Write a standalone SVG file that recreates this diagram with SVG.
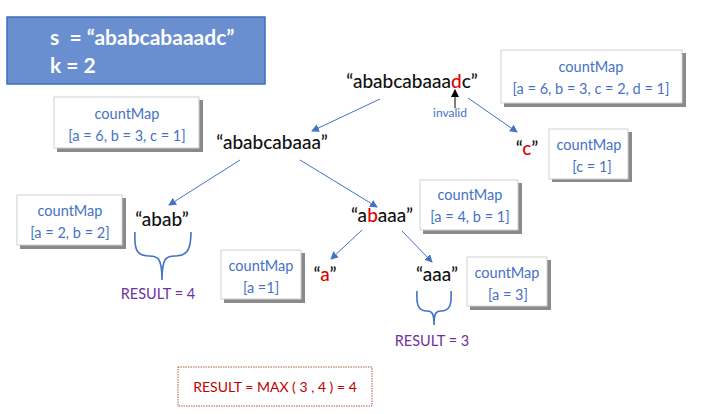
<svg xmlns="http://www.w3.org/2000/svg" width="703" height="414" viewBox="0 0 703 414">
<defs>
<marker id="ab" markerWidth="8" markerHeight="8" refX="7" refY="4" orient="auto" markerUnits="userSpaceOnUse"><path d="M0,0 L8,4 L0,8 z" fill="#4472c4"/></marker>
<marker id="ak" markerWidth="8" markerHeight="8" refX="7" refY="4" orient="auto" markerUnits="userSpaceOnUse"><path d="M0,0 L8,4 L0,8 z" fill="#000"/></marker>
<style>
.cm{font-family:Lato,"Noto Sans",sans-serif;font-size:14.5px;fill:#4472c4;text-anchor:middle}
.sh{fill:#8a8a8a}
.bx{fill:#fff;stroke:#cfcfcf;stroke-width:1}
.nd{font-family:Lato,"Noto Sans",sans-serif;font-size:19px;fill:#111;text-anchor:middle;font-weight:500}
.r{fill:#e00000}
.ln{stroke:#4472c4;stroke-width:1;fill:none}
.br{stroke:#4472c4;stroke-width:1.6;fill:none}
.res{font-family:Lato,"Noto Sans",sans-serif;font-size:14.5px;fill:#7030a0;text-anchor:middle}
</style>
</defs>
<rect width="703" height="414" fill="#fff"/>
<g id="input">
<rect x="7" y="17" width="258" height="67" fill="#6a8fd0" stroke="#3f6fc0" stroke-width="1.5"/>
<text x="50" y="45" font-family="Lato,'Noto Sans',sans-serif" font-size="21" font-weight="bold" fill="#fff" xml:space="preserve">s  = “ababcabaaadc”</text>
<text x="50" y="73" font-family="Lato,'Noto Sans',sans-serif" font-size="21" font-weight="bold" fill="#fff">k = 2</text>
</g>
<g id="connectors">
<line class="ln" x1="380" y1="99" x2="312" y2="131" marker-end="url(#ab)"/>
<line class="ln" x1="468" y1="98" x2="517" y2="132" marker-end="url(#ab)"/>
<line x1="455" y1="108" x2="455" y2="90" stroke="#000" stroke-width="1" marker-end="url(#ak)"/>
<text x="450" y="117" class="cm" style="font-size:12px">invalid</text>
<line class="ln" x1="240" y1="160" x2="169" y2="205" marker-end="url(#ab)"/>
<line class="ln" x1="300" y1="160" x2="377" y2="207" marker-end="url(#ab)"/>
<line class="ln" x1="362" y1="230" x2="331" y2="259" marker-end="url(#ab)"/>
<line class="ln" x1="402" y1="231" x2="432" y2="262" marker-end="url(#ab)"/>
</g>
<g id="root">
<text x="412" y="88" class="nd">“ababcabaaa<tspan class="r">d</tspan>c”</text>
<rect class="sh" x="504" y="53" width="182" height="54"/>
<rect class="bx" x="501" y="50" width="181" height="53"/>
<text x="591" y="72" class="cm">countMap</text>
<text x="591" y="94" class="cm">[a = 6, b = 3, c = 2, d = 1]</text>
</g>
<g id="nodeC">
<text x="527" y="155" class="nd">“<tspan class="r">c</tspan>”</text>
<rect class="sh" x="552" y="132" width="80" height="50"/>
<rect class="bx" x="549" y="129" width="79" height="50"/>
<text x="589" y="150" class="cm">countMap</text>
<text x="592" y="172" class="cm">[c = 1]</text>
</g>
<g id="nodeL1">
<text x="272" y="149" class="nd">“ababcabaaa”</text>
<rect class="sh" x="57" y="100" width="146" height="52"/>
<rect class="bx" x="54" y="97" width="145" height="51"/>
<text x="127" y="119" class="cm">countMap</text>
<text x="127" y="141" class="cm">[a = 6, b = 3, c = 1]</text>
</g>
<g id="nodeAbab">
<text x="162" y="226" class="nd">“abab”</text>
<rect class="sh" x="20" y="198" width="106" height="51"/>
<rect class="bx" x="17" y="195" width="105" height="50"/>
<text x="70" y="216" class="cm">countMap</text>
<text x="70" y="238" class="cm">[a = 2, b = 2]</text>
<path class="br" d="M135,232 C134,250 137,256 149,256 C158,256 162,258 162,280 C162,258 166,256 175,256 C187,256 191,250 191,232"/>
<text x="158" y="299" class="res">RESULT = 4</text>
</g>
<g id="nodeAbaaa">
<text x="382" y="222" class="nd">“a<tspan class="r">b</tspan>aaa”</text>
<rect class="sh" x="423" y="183" width="99" height="51"/>
<rect class="bx" x="420" y="180" width="98" height="50"/>
<text x="470" y="200" class="cm">countMap</text>
<text x="470" y="222" class="cm">[a = 4, b = 1]</text>
</g>
<g id="nodeA">
<text x="325" y="281" class="nd">“<tspan class="r">a</tspan>”</text>
<rect class="sh" x="224" y="253" width="81" height="50"/>
<rect class="bx" x="221" y="250" width="80" height="49"/>
<text x="261" y="271" class="cm">countMap</text>
<text x="261" y="293" class="cm">[a =1]</text>
</g>
<g id="nodeAaa">
<text x="437" y="281" class="nd">“aaa”</text>
<rect class="sh" x="470" y="260" width="81" height="50"/>
<rect class="bx" x="467" y="257" width="80" height="49"/>
<text x="507" y="278" class="cm">countMap</text>
<text x="508" y="300" class="cm">[a = 3]</text>
<path class="br" d="M417,291 C416,306 419,311 427,311 C432,311 434,313 434,325 C434,313 436,311 441,311 C449,311 452,306 451,291"/>
<text x="432" y="346" class="res">RESULT = 3</text>
</g>
<g id="final">
<rect x="178" y="367" width="194" height="39" fill="#fff" stroke="#b05a4a" stroke-width="1" stroke-dasharray="1.5,1"/>
<text x="275" y="392" font-family="Lato,'Noto Sans',sans-serif" font-size="14" fill="#c00000" text-anchor="middle">RESULT = MAX ( 3 , 4 ) = 4</text>
</g>
</svg>
